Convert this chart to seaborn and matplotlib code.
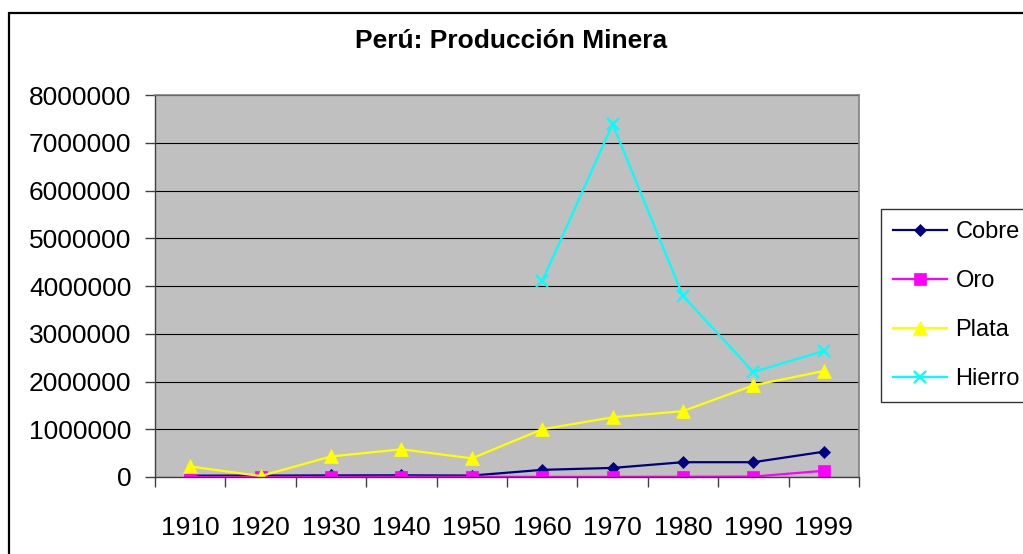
import numpy as np
import pandas as pd
import seaborn as sns
import matplotlib.pyplot as plt
from matplotlib.patches import Rectangle

# Data
years = ['1910', '1920', '1930', '1940', '1950', '1960', '1970', '1980', '1990', '1999']
cobre = [28000, 30000, 33000, 35000, 30000, 150000, 190000, 310000, 310000, 530000]
oro = [2000, 1500, 3000, 6000, 4000, 3000, 3000, 5000, 9000, 130000]
plata = [220000, 20000, 430000, 580000, 390000, 1000000, 1250000, 1380000, 1920000, 2220000]
hierro = [np.nan, np.nan, np.nan, np.nan, np.nan, 4100000, 7390000, 3790000, 2200000, 2640000]

series = ['Cobre', 'Oro', 'Plata', 'Hierro']
values = [cobre, oro, plata, hierro]
colors = ['#000080', '#FF00FF', '#FFFF00', '#00FFFF']
markers = ['D', 's', '^', 'x']
msizes = [6.5, 8.5, 10, 9]

plt.rcParams['font.family'] = ['Liberation Sans', 'DejaVu Sans']

W, H = 1023, 554
fig = plt.figure(figsize=(W / 100, H / 100), dpi=100)
ax = fig.add_axes([155 / W, 1 - 477 / H, (859 - 155) / W, (477 - 95) / H])
ax.set_facecolor('#C0C0C0')

pos = np.arange(len(years))
for name, vals, c, m, ms in zip(series, values, colors, markers, msizes):
    df = pd.DataFrame({'pos': pos, 'val': vals}).dropna()
    sns.lineplot(data=df, x='pos', y='val', ax=ax, color=c, marker=m, markersize=ms,
                 linewidth=1.6, markeredgecolor=c, markerfacecolor=c,
                 markeredgewidth=1.6 if m == 'x' else 0.5, label=name, legend=False)

ax.set_xlim(-0.5, len(years) - 0.5)
ax.set_ylim(0, 8000000)
ax.set_xlabel('')
ax.set_ylabel('')

ax.set_xticks(pos)
ax.set_xticklabels(years)
ax.set_xticks(np.arange(len(years) + 1) - 0.5, minor=True)
ax.tick_params(axis='x', which='major', length=0, pad=28, labelsize=19)
ax.tick_params(axis='x', which='minor', length=7, width=1, color='#404040')

yt = np.arange(0, 8000001, 1000000)
ax.set_yticks(yt)
ax.set_yticklabels([str(v) for v in yt])
ax.tick_params(axis='y', length=7, width=1, color='#404040', pad=10, labelsize=19)

ax.grid(axis='y', color='black', linewidth=0.8)
ax.set_axisbelow(True)
for s in ['left', 'bottom']:
    ax.spines[s].set_color('#404040')
    ax.spines[s].set_linewidth(1)
for s in ['top', 'right']:
    ax.spines[s].set_color('#808080')
    ax.spines[s].set_linewidth(1.2)

fig.text(511 / W, 1 - 29 / H, 'Perú: Producción Minera', ha='center', va='top',
         fontsize=19, fontweight='bold')

handles, labels = ax.get_legend_handles_labels()
leg = fig.legend(handles, labels, loc='upper left', bbox_to_anchor=(881 / W, 1 - 209 / H),
                 borderaxespad=0, fontsize=17, frameon=True, fancybox=False,
                 handlelength=2.3, handletextpad=0.36, labelspacing=1.15, borderpad=0.5)
leg.get_frame().set_edgecolor('black')
leg.get_frame().set_linewidth(1)

# outer chart border (cut off at the right and bottom)
fig.patches.append(Rectangle((9 / W, -0.1), 1.2, 1 - 13 / H + 0.1, transform=fig.transFigure,
                             fill=False, edgecolor='black', linewidth=1.6, clip_on=False))

fig.savefig('out.png', dpi=100, facecolor='white')
